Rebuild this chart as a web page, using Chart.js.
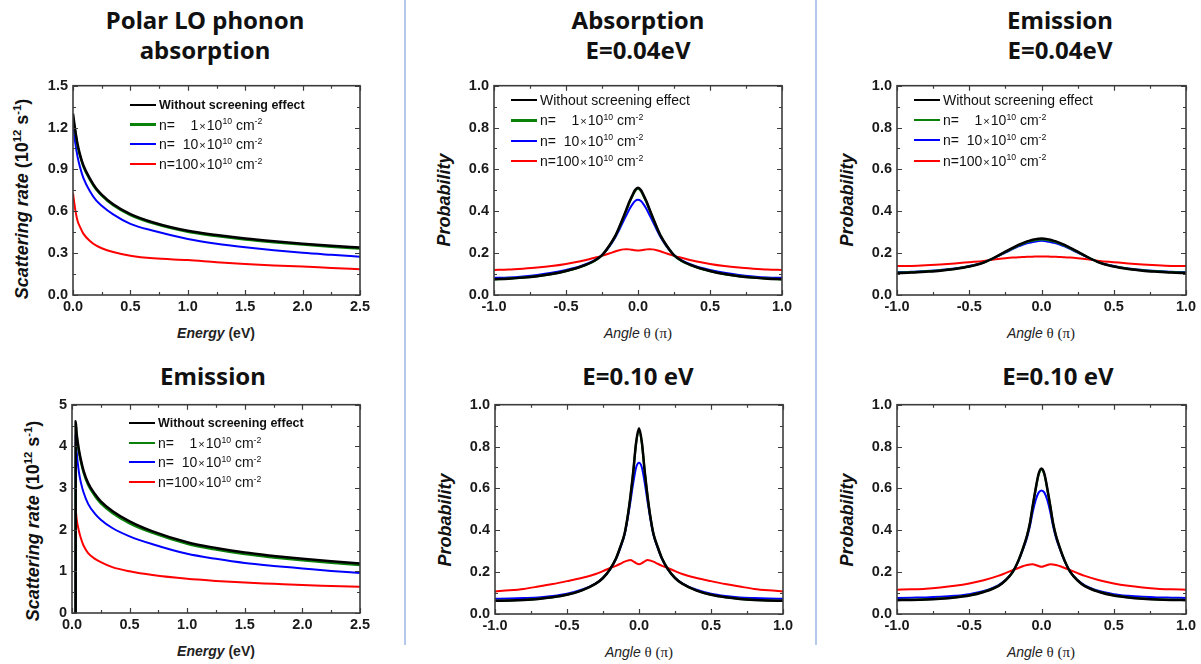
<!DOCTYPE html>
<html>
<head>
<meta charset="utf-8">
<script src="https://cdn.jsdelivr.net/npm/chart.js@4.4.1/dist/chart.umd.min.js"></script>
<style>
  body { margin: 0; background: #fff; width: 1201px; height: 664px; position: relative; overflow: hidden;
         font-family: "Liberation Sans", Arial, sans-serif; color: #111; }
  canvas { position: absolute; }
  .sep { position: absolute; top: 0; width: 2px; height: 645px; background: #b3c8ea; }
  .ttl { position: absolute; transform: translateX(-50%); font: 700 24px/30px "Noto Sans", sans-serif;
         text-align: center; white-space: nowrap; color: #111; }
  .xt { position: absolute; transform: translate(-50%, -50%); white-space: nowrap; font-size: 14px; color: #222; }
  .xt.en { font-weight: 700; }
  .xt .s { font-family: "Liberation Serif", serif; font-size: 15px; }
  .yt { position: absolute; transform: translate(-50%, -50%) rotate(-90deg); white-space: nowrap;
        font: 700 18px "Liberation Sans", Arial, sans-serif; color: #111; }
  .yt sup, .leg sup { font-size: 0.62em; position: relative; top: -0.6em; vertical-align: baseline; line-height: 0; }
  .leg { position: absolute; height: 18px; display: flex; align-items: center; white-space: nowrap;
         font-size: 14px; color: #111; }
  .leg .sw { display: inline-block; width: 26px; margin-right: 3px; }
  .leg .b { font-weight: 700; font-size: 12.5px; }
  .leg .num { display: inline-block; width: 23.4px; text-align: right; }
  .leg .x { font-size: 11px; margin: 0 1px; }
</style>
</head>
<body>
<div class="sep" style="left:404px"></div>
<div class="sep" style="left:815px"></div>

<div class="ttl" style="left:205px;top:5px">Polar LO phonon<br>absorption</div>
<div class="ttl" style="left:638px;top:5px">Absorption<br>E=0.04eV</div>
<div class="ttl" style="left:1060px;top:5px">Emission<br>E=0.04eV</div>
<div class="ttl" style="left:213px;top:361px">Emission</div>
<div class="ttl" style="left:638px;top:361px">E=0.10 eV</div>
<div class="ttl" style="left:1058px;top:361px">E=0.10 eV</div>

<div class="xt en" style="left:216px;top:333px"><i>Energy</i> (eV)</div>
<div class="xt" style="left:638px;top:333px"><i>Angle</i> <span class="s">θ (π)</span></div>
<div class="xt" style="left:1041px;top:333px"><i>Angle</i> <span class="s">θ (π)</span></div>
<div class="xt en" style="left:216px;top:651px"><i>Energy</i> (eV)</div>
<div class="xt" style="left:639px;top:652px"><i>Angle</i> <span class="s">θ (π)</span></div>
<div class="xt" style="left:1041px;top:652px"><i>Angle</i> <span class="s">θ (π)</span></div>

<div class="yt" style="left:22px;top:199px"><i>Scattering rate</i> (10<sup>12</sup> s<sup>-1</sup>)</div>
<div class="yt" style="left:33px;top:521px"><i>Scattering rate</i> (10<sup>12</sup> s<sup>-1</sup>)</div>
<div class="yt" style="left:444px;top:200px"><i>Probability</i></div>
<div class="yt" style="left:847px;top:200px"><i>Probability</i></div>
<div class="yt" style="left:445px;top:520px"><i>Probability</i></div>
<div class="yt" style="left:847px;top:520px"><i>Probability</i></div>

<script>
// series order: no screening, then n = 1, 10, 100 (x10^10 cm^-2)
const seriesNames = ['Without screening effect', 'n1', 'n10', 'n100'];
const densities = [1, 10, 100];
const seriesColors = ['#000000', '#0a820a', '#0000ff', '#ff0000'];
const seriesWidths = [2.5, 2.2, 2, 2];

// tick values
const energyTicks = [0, 0.5, 1, 1.5, 2, 2.5];
const absRateTicks = [0, 0.3, 0.6, 0.9, 1.2, 1.5];
const emiRateTicks = [0, 1, 2, 3, 4, 5];
const angleTicks = [-1, -0.5, 0, 0.5, 1];
const probTicks = [0, 0.2, 0.4, 0.6, 0.8, 1];

// scattering rate vs energy, absorption (10^12 1/s)
const absEnergy = [0, 0.02, 0.04, 0.06, 0.09, 0.15, 0.2, 0.25, 0.35, 0.5, 0.7, 1.0, 1.25, 1.5, 1.75, 2.0, 2.25, 2.5];
const absNoScreen = [1.30, 1.18, 1.08, 1.01, 0.93, 0.83, 0.765, 0.72, 0.65, 0.58, 0.52, 0.46, 0.43, 0.405, 0.385, 0.368, 0.353, 0.34];
const absN1 = [1.28, 1.17, 1.07, 1.0, 0.92, 0.82, 0.757, 0.712, 0.642, 0.572, 0.512, 0.452, 0.422, 0.397, 0.377, 0.36, 0.345, 0.332];
const absN10 = [1.24, 1.09, 0.99, 0.92, 0.84, 0.74, 0.68, 0.64, 0.578, 0.51, 0.46, 0.402, 0.368, 0.342, 0.32, 0.302, 0.288, 0.275];
const absN100 = [0.73, 0.61, 0.53, 0.49, 0.44, 0.385, 0.355, 0.335, 0.308, 0.282, 0.263, 0.25, 0.235, 0.222, 0.212, 0.204, 0.194, 0.185];

// scattering rate vs energy, emission (starts at the phonon threshold)
const emiEnergy = [0.0315, 0.032, 0.04, 0.06, 0.08, 0.1, 0.14, 0.2, 0.25, 0.35, 0.5, 0.7, 1.0, 1.25, 1.5, 1.75, 2.0, 2.25, 2.5];
const emiNoScreen = [0, 4.6, 4.32, 3.92, 3.64, 3.42, 3.12, 2.85, 2.68, 2.45, 2.2, 1.96, 1.7, 1.56, 1.45, 1.37, 1.3, 1.24, 1.19];
const emiN1 = [0, 4.55, 4.27, 3.87, 3.59, 3.37, 3.07, 2.8, 2.63, 2.4, 2.15, 1.92, 1.66, 1.52, 1.41, 1.33, 1.26, 1.2, 1.15];
const emiN10 = [0, 4.25, 3.88, 3.38, 3.1, 2.9, 2.62, 2.38, 2.24, 2.04, 1.84, 1.65, 1.42, 1.3, 1.2, 1.13, 1.07, 1.01, 0.96];
const emiN100 = [0, 2.48, 2.26, 1.97, 1.77, 1.62, 1.44, 1.3, 1.22, 1.1, 1.0, 0.91, 0.82, 0.77, 0.73, 0.7, 0.67, 0.65, 0.63];

// angular distributions, theta in units of pi
const theta = [-1, -0.9, -0.8, -0.7, -0.6, -0.5, -0.4, -0.3, -0.25, -0.2, -0.16, -0.13, -0.1, -0.08, -0.06, -0.04, -0.02,
  0, 0.02, 0.04, 0.06, 0.08, 0.1, 0.13, 0.16, 0.2, 0.25, 0.3, 0.4, 0.5, 0.6, 0.7, 0.8, 0.9, 1];

// absorption, E = 0.04 eV
const abs04NoScreen = [0.075, 0.078, 0.083, 0.09, 0.1, 0.115, 0.135, 0.165, 0.19, 0.235, 0.28, 0.325, 0.375, 0.41, 0.445, 0.475, 0.502,
  0.513, 0.502, 0.475, 0.445, 0.41, 0.375, 0.325, 0.28, 0.235, 0.19, 0.165, 0.135, 0.115, 0.1, 0.09, 0.083, 0.078, 0.075];
const abs04N1 = [0.075, 0.078, 0.083, 0.09, 0.1, 0.114, 0.134, 0.164, 0.189, 0.233, 0.278, 0.322, 0.372, 0.407, 0.441, 0.471, 0.497,
  0.508, 0.497, 0.471, 0.441, 0.407, 0.372, 0.322, 0.278, 0.233, 0.189, 0.164, 0.134, 0.114, 0.1, 0.09, 0.083, 0.078, 0.075];
const abs04N10 = [0.082, 0.084, 0.089, 0.096, 0.106, 0.12, 0.138, 0.167, 0.19, 0.23, 0.272, 0.312, 0.355, 0.382, 0.41, 0.432, 0.449,
  0.455, 0.449, 0.432, 0.41, 0.382, 0.355, 0.312, 0.272, 0.23, 0.19, 0.167, 0.138, 0.12, 0.106, 0.096, 0.089, 0.084, 0.082];
const abs04N100 = [0.12, 0.122, 0.126, 0.131, 0.138, 0.148, 0.161, 0.178, 0.187, 0.198, 0.208, 0.214, 0.218, 0.219, 0.218, 0.216, 0.214,
  0.213, 0.214, 0.216, 0.218, 0.219, 0.218, 0.214, 0.208, 0.198, 0.187, 0.178, 0.161, 0.148, 0.138, 0.131, 0.126, 0.122, 0.12];

// emission, E = 0.04 eV
const emi04NoScreen = [0.105, 0.107, 0.111, 0.116, 0.124, 0.136, 0.155, 0.188, 0.207, 0.225, 0.239, 0.248, 0.256, 0.26, 0.264, 0.267, 0.269,
  0.27, 0.269, 0.267, 0.264, 0.26, 0.256, 0.248, 0.239, 0.225, 0.207, 0.188, 0.155, 0.136, 0.124, 0.116, 0.111, 0.107, 0.105];
const emi04N1 = [0.107, 0.109, 0.113, 0.118, 0.125, 0.137, 0.155, 0.187, 0.205, 0.222, 0.236, 0.245, 0.253, 0.257, 0.26, 0.263, 0.265,
  0.266, 0.265, 0.263, 0.26, 0.257, 0.253, 0.245, 0.236, 0.222, 0.205, 0.187, 0.155, 0.137, 0.125, 0.118, 0.113, 0.109, 0.107];
const emi04N10 = [0.109, 0.111, 0.115, 0.12, 0.127, 0.139, 0.156, 0.186, 0.203, 0.219, 0.232, 0.24, 0.247, 0.25, 0.253, 0.256, 0.258,
  0.259, 0.258, 0.256, 0.253, 0.25, 0.247, 0.24, 0.232, 0.219, 0.203, 0.186, 0.156, 0.139, 0.127, 0.12, 0.115, 0.111, 0.109];
const emi04N100 = [0.138, 0.139, 0.142, 0.146, 0.151, 0.157, 0.163, 0.172, 0.176, 0.179, 0.18, 0.181, 0.183, 0.183, 0.183, 0.184, 0.184,
  0.184, 0.184, 0.184, 0.183, 0.183, 0.183, 0.181, 0.18, 0.179, 0.176, 0.172, 0.163, 0.157, 0.151, 0.146, 0.142, 0.139, 0.138];

// absorption, E = 0.10 eV
const abs10NoScreen = [0.063, 0.064, 0.067, 0.072, 0.08, 0.092, 0.112, 0.145, 0.172, 0.215, 0.265, 0.32, 0.385, 0.46, 0.56, 0.68, 0.82,
  0.887, 0.82, 0.68, 0.56, 0.46, 0.385, 0.32, 0.265, 0.215, 0.172, 0.145, 0.112, 0.092, 0.08, 0.072, 0.067, 0.064, 0.063];
const abs10N1 = [0.063, 0.064, 0.067, 0.072, 0.08, 0.092, 0.112, 0.145, 0.172, 0.215, 0.265, 0.32, 0.384, 0.459, 0.558, 0.677, 0.815,
  0.88, 0.815, 0.677, 0.558, 0.459, 0.384, 0.32, 0.265, 0.215, 0.172, 0.145, 0.112, 0.092, 0.08, 0.072, 0.067, 0.064, 0.063];
const abs10N10 = [0.073, 0.074, 0.076, 0.079, 0.086, 0.097, 0.116, 0.147, 0.173, 0.214, 0.262, 0.315, 0.378, 0.45, 0.535, 0.625, 0.7,
  0.723, 0.7, 0.625, 0.535, 0.45, 0.378, 0.315, 0.262, 0.214, 0.173, 0.147, 0.116, 0.097, 0.086, 0.079, 0.076, 0.074, 0.073];
const abs10N100 = [0.108, 0.113, 0.12, 0.131, 0.143, 0.157, 0.172, 0.191, 0.205, 0.22, 0.23, 0.24, 0.25, 0.255, 0.258, 0.252, 0.243,
  0.238, 0.243, 0.252, 0.258, 0.255, 0.25, 0.24, 0.23, 0.22, 0.205, 0.191, 0.172, 0.157, 0.143, 0.131, 0.12, 0.113, 0.108];

// emission, E = 0.10 eV
const emi10NoScreen = [0.066, 0.067, 0.069, 0.073, 0.079, 0.088, 0.105, 0.133, 0.16, 0.2, 0.255, 0.31, 0.375, 0.435, 0.52, 0.6, 0.67,
  0.695, 0.67, 0.6, 0.52, 0.435, 0.375, 0.31, 0.255, 0.2, 0.16, 0.133, 0.105, 0.088, 0.079, 0.073, 0.069, 0.067, 0.066];
const emi10N1 = [0.067, 0.068, 0.07, 0.074, 0.08, 0.089, 0.106, 0.134, 0.16, 0.2, 0.255, 0.31, 0.374, 0.434, 0.518, 0.597, 0.665,
  0.69, 0.665, 0.597, 0.518, 0.434, 0.374, 0.31, 0.255, 0.2, 0.16, 0.134, 0.106, 0.089, 0.08, 0.074, 0.07, 0.068, 0.067];
const emi10N10 = [0.077, 0.078, 0.079, 0.082, 0.087, 0.095, 0.11, 0.137, 0.162, 0.2, 0.252, 0.305, 0.365, 0.42, 0.49, 0.545, 0.58,
  0.59, 0.58, 0.545, 0.49, 0.42, 0.365, 0.305, 0.252, 0.2, 0.162, 0.137, 0.11, 0.095, 0.087, 0.082, 0.079, 0.078, 0.077];
const emi10N100 = [0.116, 0.118, 0.121, 0.127, 0.135, 0.146, 0.161, 0.182, 0.195, 0.209, 0.22, 0.228, 0.234, 0.237, 0.238, 0.234, 0.229,
  0.226, 0.229, 0.234, 0.238, 0.237, 0.234, 0.228, 0.22, 0.209, 0.195, 0.182, 0.161, 0.146, 0.135, 0.127, 0.121, 0.118, 0.116];

// plot boxes on the page: [left, top, right, bottom]
const panels = [
  { box: [73, 82, 360, 295], xs: absEnergy, ys: [absNoScreen, absN1, absN10, absN100], xTicks: energyTicks, yTicks: absRateTicks, yDec: 1,
    legend: { x: 130, y: 105, dy: 19.7, bold: true } },
  { box: [494, 82, 782, 295], xs: theta, ys: [abs04NoScreen, abs04N1, abs04N10, abs04N100], xTicks: angleTicks, yTicks: probTicks, yDec: 1,
    legend: { x: 511, y: 100, dy: 20.3, bold: false } },
  { box: [897, 82, 1186, 295], xs: theta, ys: [emi04NoScreen, emi04N1, emi04N10, emi04N100], xTicks: angleTicks, yTicks: probTicks, yDec: 1,
    legend: { x: 914, y: 99.5, dy: 20.4, bold: false } },
  { box: [72, 401, 360, 613], xs: emiEnergy, ys: [emiNoScreen, emiN1, emiN10, emiN100], xTicks: energyTicks, yTicks: emiRateTicks, yDec: 0,
    legend: { x: 129, y: 423.3, dy: 19.5, bold: true } },
  { box: [495, 401, 783, 614], xs: theta, ys: [abs10NoScreen, abs10N1, abs10N10, abs10N100], xTicks: angleTicks, yTicks: probTicks, yDec: 1 },
  { box: [897, 401, 1186, 614], xs: theta, ys: [emi10NoScreen, emi10N1, emi10N10, emi10N100], xTicks: angleTicks, yTicks: probTicks, yDec: 1 }
];

// box frame plus inward major/minor ticks on all four sides
const frameTicks = {
  id: 'frameTicks',
  afterDraw(chart) {
    const { ctx, chartArea: a, scales: { x, y } } = chart;
    ctx.save();
    ctx.strokeStyle = '#3c3c3c';
    ctx.lineWidth = 1.6;
    ctx.strokeRect(a.left, a.top, a.right - a.left, a.bottom - a.top);
    ctx.lineWidth = 1.2;
    const withMinor = vals => {
      const out = [];
      vals.forEach((v, i) => {
        out.push([v, 5]);
        if (i < vals.length - 1) out.push([(v + vals[i + 1]) / 2, 3]);
      });
      return out;
    };
    ctx.beginPath();
    withMinor(x.ticks.map(t => t.value)).forEach(([v, len]) => {
      const px = Math.round(x.getPixelForValue(v)) + 0.5;
      ctx.moveTo(px, a.bottom); ctx.lineTo(px, a.bottom - len);
      ctx.moveTo(px, a.top); ctx.lineTo(px, a.top + len);
    });
    withMinor(y.ticks.map(t => t.value)).forEach(([v, len]) => {
      const py = Math.round(y.getPixelForValue(v)) + 0.5;
      ctx.moveTo(a.left, py); ctx.lineTo(a.left + len, py);
      ctx.moveTo(a.right, py); ctx.lineTo(a.right - len, py);
    });
    ctx.stroke();
    ctx.restore();
  }
};

const tickFont = { family: '"Liberation Sans", Arial, sans-serif', size: 14.5, weight: 'bold' };
const padL = 70, padT = 10, padR = 20, padB = 40;

function densityText(n) {
  return '<span>n=<span class="num">' + n + '</span><span class="x">×</span>10<sup>10</sup> cm<sup>-2</sup></span>';
}

function addLegend(lg) {
  seriesNames.forEach((name, i) => {
    const row = document.createElement('div');
    row.className = 'leg';
    row.style.left = lg.x + 'px';
    row.style.top = (lg.y + i * lg.dy - 9) + 'px';
    const sw = '<span class="sw" style="background:' + seriesColors[i] + ';height:' + (i === 1 ? 2.5 : 2) + 'px"></span>';
    const txt = i === 0 ? '<span class="' + (lg.bold ? 'b' : '') + '">' + name + '</span>' : densityText(densities[i - 1]);
    row.innerHTML = sw + txt;
    document.body.appendChild(row);
  });
}

panels.forEach(p => {
  const [L, T, R, B] = p.box;
  const canvas = document.createElement('canvas');
  canvas.width = R - L + padL + padR;
  canvas.height = B - T + padT + padB;
  canvas.style.left = (L - padL) + 'px';
  canvas.style.top = (T - padT) + 'px';
  canvas.style.width = canvas.width + 'px';
  canvas.style.height = canvas.height + 'px';
  document.body.appendChild(canvas);

  new Chart(canvas.getContext('2d'), {
    type: 'line',
    data: {
      datasets: p.ys.map((ys, i) => ({
        label: seriesNames[i],
        data: p.xs.map((x, k) => ({ x: x, y: ys[k] })),
        borderColor: seriesColors[i],
        borderWidth: seriesWidths[i],
        pointRadius: 0,
        cubicInterpolationMode: 'monotone',
        fill: false
      }))
    },
    options: {
      responsive: false,
      animation: false,
      events: [],
      layout: { padding: { left: 0, top: padT, right: padR, bottom: 0 } },
      plugins: { legend: { display: false }, tooltip: { enabled: false } },
      scales: {
        x: {
          type: 'linear',
          min: p.xTicks[0], max: p.xTicks[p.xTicks.length - 1],
          grid: { display: false, drawTicks: false },
          border: { display: false },
          afterBuildTicks: s => { s.ticks = p.xTicks.map(v => ({ value: v })); },
          afterFit: s => { s.height = padB; },
          ticks: { font: tickFont, color: '#1a1a1a', padding: 3, maxRotation: 0,
                   callback: v => Number(v).toFixed(1) }
        },
        y: {
          type: 'linear',
          min: p.yTicks[0], max: p.yTicks[p.yTicks.length - 1],
          grid: { display: false, drawTicks: false },
          border: { display: false },
          afterBuildTicks: s => { s.ticks = p.yTicks.map(v => ({ value: v })); },
          afterFit: s => { s.width = padL; },
          ticks: { font: tickFont, color: '#1a1a1a', padding: 5,
                   callback: v => Number(v).toFixed(p.yDec) }
        }
      }
    },
    plugins: [frameTicks]
  });

  if (p.legend) addLegend(p.legend);
});
</script>
</body>
</html>
